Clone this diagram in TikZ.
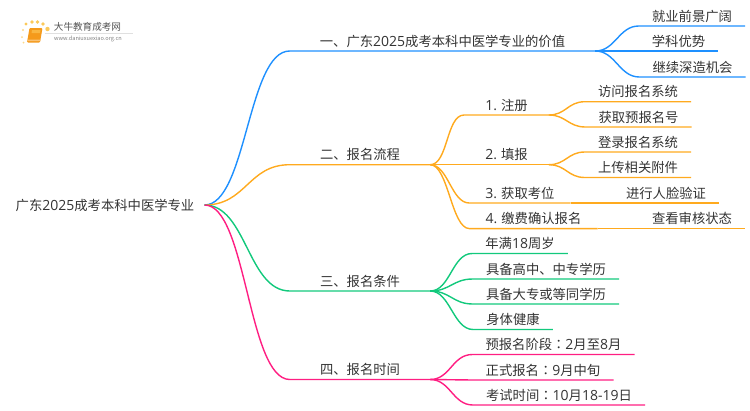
\documentclass[tikz,border=0pt]{standalone}
\usepackage{fontspec}
\setmainfont{Noto Sans CJK SC}
\newfontfamily\digitfont{Open Sans}[Scale=1.05]
\newfontfamily\colonfont{Noto Sans CJK TC}
\newcommand{\dg}[1]{{\digitfont #1}}
\newcommand{\cln}{{\colonfont ：}}
\definecolor{lineblue}{HTML}{1E90FF}
\definecolor{lineorange}{HTML}{FFAA1E}
\definecolor{linegreen}{HTML}{12C97C}
\definecolor{linepink}{HTML}{FF1E82}
\definecolor{textgray}{HTML}{333333}
\definecolor{logoorange}{HTML}{F59A1B}
\definecolor{logoyellow}{HTML}{FBC95A}
\tikzset{
  lbl/.style={anchor=south, inner ysep=1.9pt, text height=10.5pt, text depth=2.8pt, text=textgray, font=\fontsize{13.33}{16}\selectfont},
  first/.style={lbl, inner xsep=30pt},
  second/.style={lbl, inner xsep=16pt},
  third/.style={lbl, inner xsep=13pt},
  branch/.style={line width=1.4pt, line join=round}
}
\begin{document}
\begin{tikzpicture}[x=1pt,y=-1pt]
\useasboundingbox (0,0) rectangle (750,410);
% logo
\fill [logoyellow] (26,24) circle (1.7) (32,22) circle (1.9) (37.5,22) circle (1.9) (43,24) circle (1.9) (47.5,29) circle (2.2);
\fill [logoyellow!70] (23,30) circle (1.1) (22,37) circle (1) (23.5,42.5) circle (1);
\fill [logoorange, rounded corners=1pt] (29.5,28) -- (42.5,28) -- (40,42.5) -- (27,42.5) -- cycle;
\fill [logoorange!60!white] (28,39.5) -- (40.5,39.5) -- (40.2,41) -- (27.7,41) -- cycle;
\fill [logoyellow!60!logoorange] (32,30) -- (40.5,30) -- (40,33) -- (31.5,33) -- cycle;
\node (logotext) at (87.5,27) [inner sep=0, text=textgray!85, font=\fontsize{9.6}{11}\selectfont] {大牛教育成考网};
\node (logourl) at (88,38.5) [inner sep=0, text=gray, font=\fontsize{5.6}{7}\selectfont] {www.daniuxuexiao.org.cn};
\draw [black!12, line width=.5pt] (45,33) -- (133,33);
% nodes
\node (root) at (105,205) [inner xsep=10pt, inner ysep=0, text=textgray, font=\fontsize{13.33}{16}\selectfont] {广东\dg{2025}成考本科中医学专业};
\node (A) at (442.5,51) [first] {一、广东\dg{2025}成考本科中医学专业的价值};
\node (A1) at (692,26) [third] {就业前景广阔};
\node (A2) at (678.5,51) [third] {学科优势};
\node (A3) at (692.5,77) [third] {继续深造机会};
\node (B) at (360,164.7) [first] {二、报名流程};
\node (B1) at (506.5,115) [second, inner xsep=21pt] {\dg{1.} 注册};
\node (B2) at (506.5,164.7) [second, inner xsep=21pt] {\dg{2.} 填报};
\node (B3) at (520,203) [second] {\dg{3.} 获取考位};
\node (B4) at (533.5,228.6) [second] {\dg{4.} 缴费确认报名};
\node (B11) at (638,101.7) [third] {访问报名系统};
\node (B12) at (638.5,127) [third] {获取预报名号};
\node (B21) at (638,152) [third] {登录报名系统};
\node (B22) at (638,177.5) [third] {上传相关附件};
\node (B31) at (666,203) [third] {进行人脸验证};
\node (B41) at (692,228.6) [third] {查看审核状态};
\node (C) at (360,291) [first] {三、报名条件};
\node (C1) at (520,253.5) [third] {年满\dg{18}周岁};
\node (C2) at (546,279) [third] {具备高中、中专学历};
\node (C3) at (546,304) [third] {具备大专或等同学历};
\node (C4) at (513,329.5) [third] {身体健康};
\node (D) at (360,379.5) [first] {四、报名时间};
\node (D1) at (553.5,354.5) [third] {预报名阶段\cln\dg{2}月至\dg{8}月};
\node (D2) at (543,380) [third] {正式报名\cln\dg{9}月中旬};
\node (D3) at (559,405) [third] {考试时间\cln\dg{10}月\dg{18-19}日};
% first branch
\draw [branch, lineblue] (root.east) .. controls +(42,0) and +(-42,0) .. (A.south west) -- (A.south east);
\draw [branch, lineblue] (A.south east) .. controls +(20,0) and +(-20,0) .. (A1.south west) -- (A1.south east);
\draw [branch, lineblue] (A.south east) -- (A2.south west) -- (A2.south east);
\draw [branch, lineblue] (A.south east) .. controls +(20,0) and +(-20,0) .. (A3.south west) -- (A3.south east);
% second branch
\draw [branch, lineorange] (root.east) .. controls +(42,0) and +(-42,0) .. (B.south west) -- (B.south east);
\draw [branch, lineorange] (B.south east) .. controls +(18,0) and +(-18,0) .. (B1.south west) -- (B1.south east);
\draw [branch, lineorange] (B.south east) -- (B2.south west) -- (B2.south east);
\draw [branch, lineorange] (B.south east) .. controls +(18,0) and +(-18,0) .. (B3.south west) -- (B3.south east);
\draw [branch, lineorange] (B.south east) .. controls +(18,0) and +(-18,0) .. (B4.south west) -- (B4.south east);
\draw [branch, lineorange] (B1.south east) .. controls +(17,0) and +(-17,0) .. (B11.south west) -- (B11.south east);
\draw [branch, lineorange] (B1.south east) .. controls +(17,0) and +(-17,0) .. (B12.south west) -- (B12.south east);
\draw [branch, lineorange] (B2.south east) .. controls +(17,0) and +(-17,0) .. (B21.south west) -- (B21.south east);
\draw [branch, lineorange] (B2.south east) .. controls +(17,0) and +(-17,0) .. (B22.south west) -- (B22.south east);
\draw [branch, lineorange] (B3.south east) -- (B31.south west) -- (B31.south east);
\draw [branch, lineorange] (B4.south east) -- (B41.south west) -- (B41.south east);
% third branch
\draw [branch, linegreen] (root.east) .. controls +(42,0) and +(-42,0) .. (C.south west) -- (C.south east);
\draw [branch, linegreen] (C.south east) .. controls +(20,0) and +(-20,0) .. (C1.south west) -- (C1.south east);
\draw [branch, linegreen] (C.south east) .. controls +(20,0) and +(-20,0) .. (C2.south west) -- (C2.south east);
\draw [branch, linegreen] (C.south east) .. controls +(20,0) and +(-20,0) .. (C3.south west) -- (C3.south east);
\draw [branch, linegreen] (C.south east) .. controls +(20,0) and +(-20,0) .. (C4.south west) -- (C4.south east);
% fourth branch
\draw [branch, linepink] (root.east) .. controls +(42,0) and +(-42,0) .. (D.south west) -- (D.south east);
\draw [branch, linepink] (D.south east) .. controls +(20,0) and +(-20,0) .. (D1.south west) -- (D1.south east);
\draw [branch, linepink] (D.south east) -- (D2.south west) -- (D2.south east);
\draw [branch, linepink] (D.south east) .. controls +(20,0) and +(-20,0) .. (D3.south west) -- (D3.south east);
\end{tikzpicture}
\end{document}
